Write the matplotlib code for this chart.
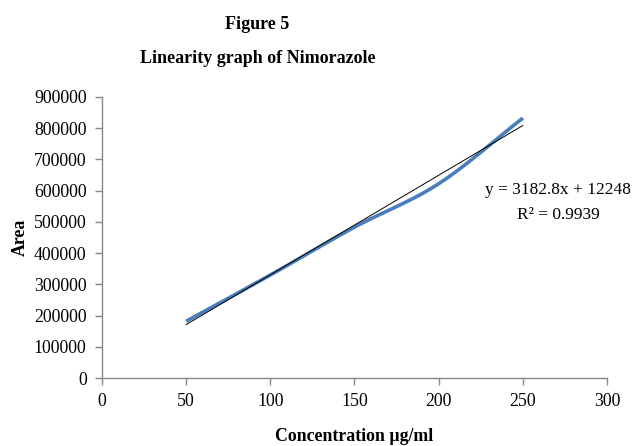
import numpy as np
import matplotlib
matplotlib.use("Agg")
import matplotlib.pyplot as plt

# concentration (ug/ml) and peak area
conc = [50, 100, 150, 200, 250]
area = [182000, 330000, 483000, 622000, 832000]

eq_text = "y = 3182.8x + 12248"
r2_text = "R² = 0.9939"


def smooth(xs, ys, n=30):
    # catmull-rom curve through the points, like excel's smoothed line
    x = np.asarray(xs, float)
    y = np.asarray(ys, float)
    px = np.concatenate([[2 * x[0] - x[1]], x, [2 * x[-1] - x[-2]]])
    py = np.concatenate([[2 * y[0] - y[1]], y, [2 * y[-1] - y[-2]]])
    t = np.linspace(0, 1, n)
    outx, outy = [], []
    for i in range(1, len(px) - 2):
        for arr, out in ((px, outx), (py, outy)):
            p0, p1, p2, p3 = arr[i - 1], arr[i], arr[i + 1], arr[i + 2]
            out.extend(0.5 * (2 * p1 + (-p0 + p2) * t
                              + (2 * p0 - 5 * p1 + 4 * p2 - p3) * t ** 2
                              + (-p0 + 3 * p1 - 3 * p2 + p3) * t ** 3))
    return outx, outy


plt.rcParams["font.family"] = ["Liberation Serif", "DejaVu Serif"]

fig = plt.figure(figsize=(6.37, 4.46), dpi=100)
ax = fig.add_axes([0.160, 0.152, 0.793, 0.631])

sx, sy = smooth(conc, area)
ax.plot(sx, sy, color="#4a7ebb", lw=2.6, solid_capstyle="butt", zorder=2)

slope, icpt = np.polyfit(conc, area, 1)
tx = np.array([conc[0], conc[-1]])
ax.plot(tx, slope * tx + icpt, color="black", lw=0.7, zorder=3)

ax.set_xlim(0, 300)
ax.set_ylim(0, 900000)
ax.set_xticks(range(0, 301, 50))
ax.set_yticks(range(0, 900001, 100000))
ax.tick_params(axis="both", labelsize=12.8, color="#888888", length=5, width=1, pad=6)
for s in ("top", "right"):
    ax.spines[s].set_visible(False)
for s in ("left", "bottom"):
    ax.spines[s].set_color("#888888")
    ax.spines[s].set_linewidth(1)

ax.set_ylabel("Area", fontsize=12.8, fontweight="bold", labelpad=4)
fig.text(0.556, 0.021, "Concentration µg/ml", ha="center", va="center",
         fontsize=12.8, fontweight="bold")

fig.text(0.404, 0.946, "Figure 5", ha="center", va="center", fontsize=13, fontweight="bold")
fig.text(0.404, 0.868, "Linearity graph of Nimorazole", ha="center", va="center",
         fontsize=13, fontweight="bold")

fig.text(0.876, 0.574, eq_text, ha="center", va="center", fontsize=12.5)
fig.text(0.876, 0.518, r2_text, ha="center", va="center", fontsize=12.5)

fig.savefig("out.png", dpi=100)
